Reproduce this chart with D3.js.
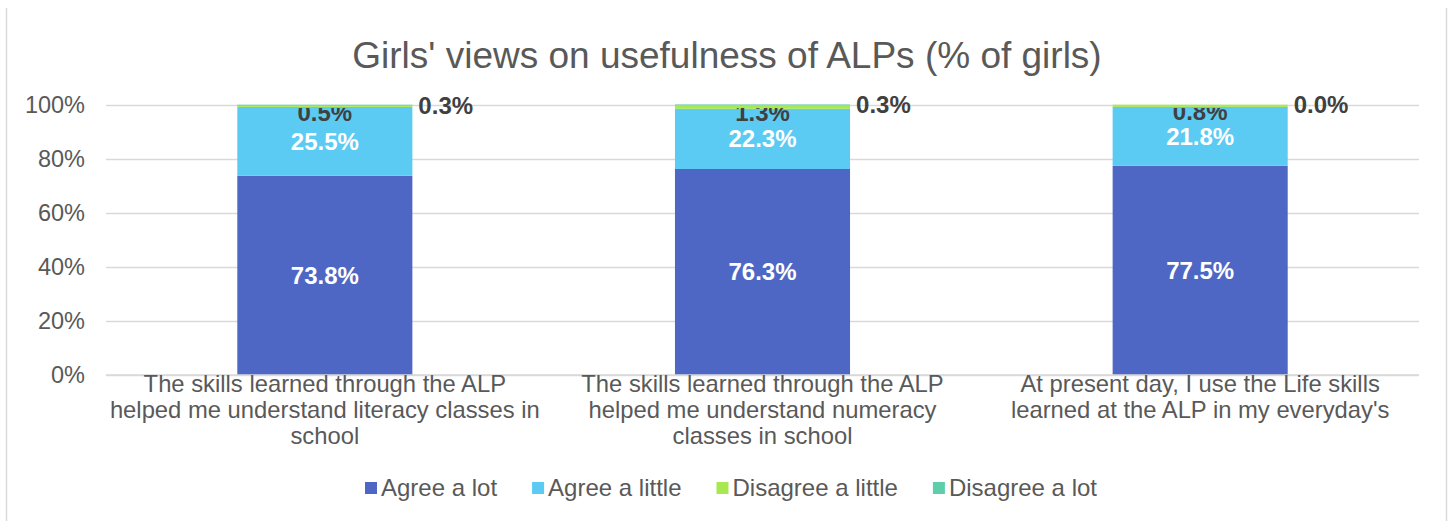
<!DOCTYPE html>
<html>
<head>
<meta charset="utf-8">
<script src="https://cdn.jsdelivr.net/npm/d3@7"></script>
<style>
  html, body { margin: 0; padding: 0; background: #ffffff; }
  svg { display: block; font-family: "Liberation Sans", Arial, sans-serif; }
</style>
</head>
<body>
<svg id="chart" width="1450" height="521"></svg>
<script>
// Survey statements (one stacked bar each), split over lines as printed
const categories = ["literacy", "numeracy", "lifeskills"];
const categoryLines = [
  ["The skills learned through the ALP", "helped me understand literacy classes in", "school"],
  ["The skills learned through the ALP", "helped me understand numeracy", "classes in school"],
  ["At present day, I use the Life skills", "learned at the ALP in my everyday's"]
];

// Share of girls per answer (%)
const agreeLot       = [73.8, 76.3, 77.5];
const agreeLittle    = [25.5, 22.3, 21.8];
const disagreeLittle = [0.5, 1.3, 0.8];
const disagreeLot    = [0.3, 0.3, 0.0];

const seriesNames  = ["Agree a lot", "Agree a little", "Disagree a little", "Disagree a lot"];
const seriesValues = [agreeLot, agreeLittle, disagreeLittle, disagreeLot];
const seriesColors = ["#4F67C4", "#5BCBF3", "#A8E850", "#5ECEAA"];

const yTicks = [0, 0.2, 0.4, 0.6, 0.8, 1.0];
const titleText = "Girls' views on usefulness of ALPs (% of girls)";

const svg = d3.select("#chart");
const W = 1450, H = 521;
const plot = { left: 106, right: 1419, top: 105, bottom: 375 };
const textGrey = "#595959";

// outer frame (side edges)
svg.append("line").attr("x1", 6.5).attr("x2", 6.5).attr("y1", 8).attr("y2", H)
  .attr("stroke", "#d9d9d9").attr("stroke-width", 1.5);
svg.append("line").attr("x1", 1446.5).attr("x2", 1446.5).attr("y1", 8).attr("y2", H)
  .attr("stroke", "#d9d9d9").attr("stroke-width", 1.5);

// title
svg.append("text")
  .attr("x", 727).attr("y", 68)
  .attr("text-anchor", "middle")
  .attr("font-size", 37)
  .attr("fill", textGrey)
  .text(titleText);

// scales
const x = d3.scaleBand()
  .domain(categories)
  .range([plot.left, plot.right])
  .paddingInner(0.6)
  .paddingOuter(0.3);

const y = d3.scaleLinear().domain([0, 1]).range([plot.bottom, plot.top]);

// gridlines
const yAxis = d3.axisLeft(y)
  .tickValues(yTicks)
  .tickSize(-(plot.right - plot.left))
  .tickPadding(21)
  .tickFormat(d3.format(".0%"));

const axisG = svg.append("g")
  .attr("transform", `translate(${plot.left},0)`)
  .call(yAxis);
axisG.select(".domain").remove();
axisG.selectAll(".tick line").attr("stroke", "#d9d9d9").attr("stroke-width", 1.5);
axisG.selectAll(".tick text")
  .attr("fill", textGrey)
  .attr("font-size", 23.5)
  .attr("font-family", "Liberation Sans, Arial, sans-serif");

// stacked data
const rows = categories.map((c, i) => {
  const r = { category: c };
  seriesNames.forEach((s, k) => { r[s] = seriesValues[k][i] / 100; });
  return r;
});
const stacked = d3.stack().keys(seriesNames)(rows);

// bars
const layers = svg.append("g").selectAll("g")
  .data(stacked)
  .join("g")
  .attr("fill", (d, k) => seriesColors[k]);

layers.selectAll("rect")
  .data(d => d)
  .join("rect")
  .attr("x", d => x(d.data.category))
  .attr("width", x.bandwidth())
  .attr("y", d => y(d[1]))
  .attr("height", d => Math.max(0, y(d[0]) - y(d[1])));

// value labels
const fmt = v => v.toFixed(1) + "%";
const labelsG = svg.append("g")
  .attr("font-size", 24)
  .attr("font-weight", "bold");

// white labels inside the two large segments
stacked.slice(0, 2).forEach((layer, k) => {
  labelsG.selectAll(null)
    .data(layer)
    .join("text")
    .attr("x", d => x(d.data.category) + x.bandwidth() / 2)
    .attr("y", d => (y(d[0]) + y(d[1])) / 2)
    .attr("dy", "0.35em")
    .attr("text-anchor", "middle")
    .attr("fill", "#ffffff")
    .text((d, i) => fmt(seriesValues[k][i]));
});

// thin top segments: labels tucked under the plot top edge
const clip = svg.append("clipPath").attr("id", "topClip");
clip.append("rect")
  .attr("x", 0).attr("y", plot.top + 3)
  .attr("width", W).attr("height", H);

labelsG.append("g")
  .attr("clip-path", "url(#topClip)")
  .selectAll("text")
  .data(stacked[2])
  .join("text")
  .attr("x", d => x(d.data.category) + x.bandwidth() / 2)
  .attr("y", d => (y(d[0]) + y(d[1])) / 2 + 6)
  .attr("dy", "0.35em")
  .attr("text-anchor", "middle")
  .attr("fill", "#404040")
  .text((d, i) => fmt(disagreeLittle[i]));

labelsG.selectAll(null)
  .data(stacked[3])
  .join("text")
  .attr("x", d => x(d.data.category) + x.bandwidth() + 6)
  .attr("y", d => (y(d[0]) + y(d[1])) / 2)
  .attr("dy", "0.35em")
  .attr("text-anchor", "start")
  .attr("fill", "#404040")
  .text((d, i) => fmt(disagreeLot[i]));

// category axis line
svg.append("line")
  .attr("x1", plot.left).attr("x2", plot.right)
  .attr("y1", plot.bottom).attr("y2", plot.bottom)
  .attr("stroke", "#d9d9d9").attr("stroke-width", 1.5);

// category labels
const catG = svg.append("g")
  .attr("font-size", 23.8)
  .attr("fill", textGrey)
  .attr("text-anchor", "middle");
categories.forEach((c, i) => {
  const t = catG.append("text")
    .attr("x", x(c) + x.bandwidth() / 2)
    .attr("y", 392);
  categoryLines[i].forEach((line, j) => {
    t.append("tspan")
      .attr("x", x(c) + x.bandwidth() / 2)
      .attr("y", 392 + j * 26)
      .text(line);
  });
});

// legend
const legend = svg.append("g").attr("font-size", 24).attr("fill", textGrey);
let lx = 365;
const ly = 488;
seriesNames.forEach((name, k) => {
  legend.append("rect")
    .attr("x", lx).attr("y", ly - 6)
    .attr("width", 12).attr("height", 12)
    .attr("fill", seriesColors[k]);
  const t = legend.append("text")
    .attr("x", lx + 16).attr("y", ly)
    .attr("dy", "0.35em")
    .text(name);
  lx += 16 + t.node().getComputedTextLength() + 35;
});
</script>
</body>
</html>
